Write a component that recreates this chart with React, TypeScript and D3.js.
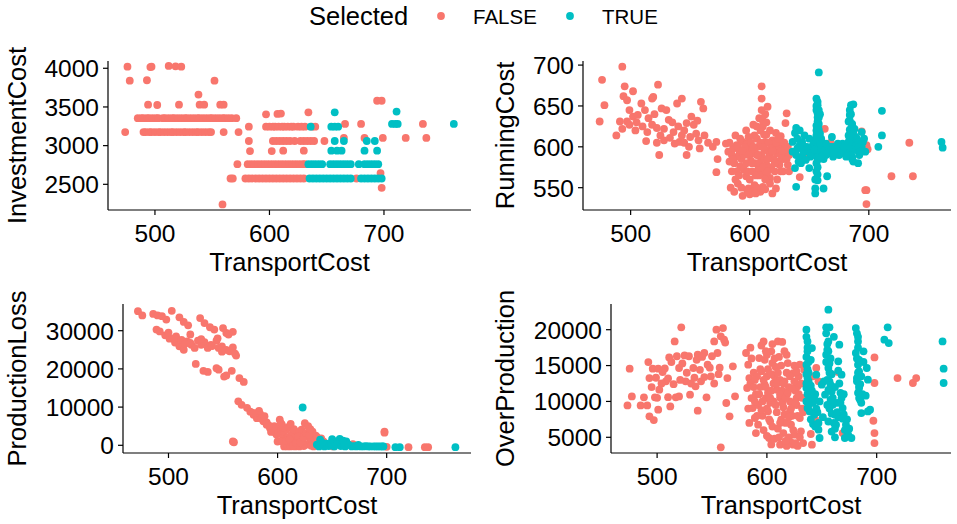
import React from 'react'
import * as d3 from 'd3'

// ---- data ----
const groups = ['FALSE', 'TRUE']
const groupColors = ['#F8766D', '#00BFC4']
const xTicks = [500, 600, 700]
const investTicks = [2500, 3000, 3500, 4000]
const runningTicks = [550, 600, 650, 700]
const lossTicks = [0, 10000, 20000, 30000]
const overTicks = [5000, 10000, 15000, 20000]

const investFalse = [
  [476, 4020], [496, 4015], [497, 4020], [512, 4030], [518, 4025], [523, 4020],
  [478, 3840], [493, 3845], [552, 3840], [538, 3660],
  [494, 3530], [502, 3525], [521, 3530], [539, 3530], [543, 3530], [557, 3530], [560, 3530],
  [485, 3355], [488, 3355], [490, 3355], [493, 3355], [495, 3355], [498, 3355], [501, 3355], [503, 3355],
  [507, 3355], [509, 3355], [512, 3355], [515, 3355], [517, 3355], [520, 3355], [523, 3355], [526, 3355],
  [528, 3355], [531, 3355], [534, 3355], [537, 3355], [539, 3355], [542, 3355], [545, 3355], [548, 3355],
  [550, 3355], [553, 3355], [556, 3355], [559, 3355], [561, 3355], [564, 3355], [567, 3355], [571, 3355],
  [474, 3175], [490, 3175], [492, 3175], [495, 3175], [497, 3175], [500, 3175], [503, 3175], [505, 3175],
  [508, 3175], [511, 3175], [514, 3175], [516, 3175], [519, 3175], [522, 3175], [525, 3175], [527, 3175],
  [530, 3175], [533, 3175], [536, 3175], [538, 3175], [541, 3175], [544, 3175], [547, 3175], [549, 3175],
  [560, 3175], [573, 3175],
  [597, 3405], [607, 3410], [610, 3415], [634, 3430],
  [582, 3245], [597, 3245], [600, 3245], [603, 3245], [605, 3245], [608, 3245], [611, 3245], [613, 3245],
  [616, 3245], [619, 3245], [621, 3245], [625, 3245], [628, 3245], [631, 3245], [637, 3245], [640, 3245],
  [666, 3280], [680, 3280], [734, 3280], [694, 3580], [698, 3580],
  [665, 3100], [683, 3100], [699, 3100], [719, 3100], [737, 3100],
  [582, 3060], [603, 3060], [606, 3060], [609, 3060], [612, 3060], [615, 3060], [618, 3060], [622, 3060],
  [627, 3060], [630, 3060], [633, 3060], [636, 3060], [639, 3060], [648, 3060],
  [583, 2930], [602, 2930], [612, 2935], [630, 2935],
  [572, 2760], [581, 2760], [584, 2760], [587, 2760], [590, 2760], [593, 2760], [596, 2760], [599, 2760],
  [602, 2760], [605, 2760], [608, 2760], [611, 2760], [614, 2760], [617, 2760], [620, 2760], [623, 2760],
  [626, 2760], [629, 2760], [631, 2760],
  [566, 2575], [568, 2575], [579, 2575], [582, 2575], [585, 2575], [588, 2575], [591, 2575], [594, 2575],
  [597, 2575], [600, 2575], [603, 2575], [606, 2575], [609, 2575], [612, 2575], [615, 2575], [618, 2575],
  [621, 2575], [624, 2575], [627, 2575], [630, 2575], [676, 2575],
  [697, 2645], [698, 2455], [559, 2240],
]
const investTrue = [
  [657, 3430], [711, 3440], [707, 3280], [710, 3280], [712, 3280], [761, 3280],
  [636, 3245], [654, 3245], [657, 3245], [660, 3245],
  [657, 3060], [665, 3060], [685, 3060], [692, 3060],
  [654, 2935], [659, 2935], [663, 2935], [683, 2935], [694, 2935],
  [634, 2760], [637, 2760], [640, 2760], [643, 2760], [646, 2760], [653, 2760], [656, 2760], [659, 2760],
  [662, 2760], [665, 2760], [668, 2760], [671, 2760], [678, 2760], [683, 2760], [686, 2760], [689, 2760],
  [692, 2760], [695, 2760],
  [635, 2575], [638, 2575], [641, 2575], [644, 2575], [647, 2575], [650, 2575], [653, 2575], [656, 2575],
  [659, 2575], [662, 2575], [665, 2575], [668, 2575], [671, 2575], [680, 2575], [683, 2575], [686, 2575],
  [689, 2575], [692, 2575], [695, 2575], [698, 2575],
]

const runningFalse = [
  [474, 631], [476, 682], [478, 651], [488, 614], [493, 698], [495, 674], [494, 662], [497, 657], [502, 668],
  [499, 645], [491, 631], [493, 622], [497, 631], [499, 627], [502, 637], [504, 620], [506, 639], [509, 653],
  [512, 645], [513, 607], [518, 659], [519, 661], [523, 676], [515, 635], [518, 627], [522, 623], [522, 605],
  [524, 590], [526, 647], [530, 645], [532, 633], [525, 614], [536, 618], [539, 653], [543, 659], [541, 606],
  [537, 604], [547, 590], [543, 614], [547, 629], [551, 637], [553, 627], [557, 608], [558, 598], [559, 655],
  [561, 647], [555, 616], [562, 614], [565, 605], [569, 600], [572, 606], [573, 585], [572, 569], [580, 604],
  [505, 630], [510, 625], [514, 618], [520, 640], [528, 622], [533, 611], [545, 620], [550, 612], [535, 630],
  [540, 625], [528, 608], [545, 605], [556, 632], [549, 600],
  [582, 594], [583, 582], [585, 570], [584, 550], [588, 614], [589, 602], [590, 588], [592, 576], [594, 606],
  [596, 592], [597, 564], [599, 549], [600, 598], [601, 583], [603, 545], [604, 614], [606, 590], [607, 572],
  [608, 635], [610, 674], [610, 659], [611, 625], [613, 606], [614, 578], [611, 551], [615, 649], [616, 594],
  [617, 562], [619, 543], [620, 602], [622, 617], [622, 549], [624, 582], [626, 570], [627, 606], [629, 592],
  [630, 629], [631, 641], [633, 590], [632, 578],
  [586, 598], [588, 560], [591, 596], [593, 585], [595, 572], [598, 604], [600, 560], [602, 592], [605, 580],
  [607, 600], [609, 588], [612, 598], [614, 615], [616, 586], [618, 575], [621, 596], [623, 560], [625, 600],
  [628, 585], [592, 610], [597, 620], [603, 627], [606, 610], [609, 545], [612, 567], [587, 545], [590, 555],
  [594, 540], [600, 542], [604, 553], [608, 565], [614, 596], [619, 608], [626, 613], [630, 597], [596, 600],
  [599, 612], [613, 640], [617, 620], [611, 632],
  [583, 605], [585, 590], [587, 580], [589, 570], [591, 565], [593, 550], [595, 590], [597, 580], [598, 570],
  [601, 605], [602, 570], [604, 595], [605, 565], [606, 550], [608, 580], [609, 605], [610, 590], [611, 575],
  [612, 585], [613, 560], [615, 570], [616, 605], [617, 590], [618, 598], [620, 585], [621, 570], [622, 605],
  [623, 592], [625, 578], [626, 590], [627, 595], [628, 570], [629, 605], [631, 585], [632, 600], [633, 570],
  [586, 585], [590, 600], [594, 595], [599, 590], [603, 600], [607, 590], [611, 600], [615, 585], [619, 595],
  [624, 610], [602, 580], [598, 545], [605, 543], [613, 548], [617, 555], [621, 580], [609, 620], [606, 625],
  [614, 630], [610, 645], [612, 615],
  [663, 622], [666, 596], [698, 602], [699, 597], [697, 547], [698, 547], [698, 530], [719, 564], [737, 564],
  [734, 605], [694, 619], [648, 587], [642, 563], [668, 605],
]
const runningTrue = [
  [638, 617], [639, 623], [636, 606], [639, 590], [638, 574], [641, 582], [639, 551], [642, 602], [646, 614],
  [648, 594], [650, 574], [653, 602], [655, 590], [656, 659], [657, 651], [657, 641], [657, 631], [658, 621],
  [657, 610], [658, 598], [657, 586], [658, 691], [657, 566], [657, 559], [655, 549], [655, 543], [662, 549],
  [665, 564], [661, 602], [664, 590], [669, 612], [672, 598], [675, 590], [681, 602], [683, 614], [683, 631],
  [684, 639], [685, 651], [687, 652], [684, 621], [684, 594], [687, 582], [691, 580], [692, 598], [694, 618],
  [695, 606], [697, 594], [708, 600], [711, 644], [711, 614], [761, 606], [762, 599],
  [656, 645], [658, 636], [656, 626], [659, 616], [656, 604], [659, 592], [656, 580], [654, 608], [660, 610],
  [662, 596], [666, 600], [668, 592], [670, 600], [676, 598], [678, 604], [686, 626], [685, 608], [688, 600],
  [686, 588], [689, 612], [682, 590], [640, 598], [644, 588], [646, 600], [650, 610], [652, 595], [644, 606],
  [636, 594], [642, 620], [680, 596], [692, 590], [690, 604],
  [657, 655], [656, 650], [658, 645], [657, 636], [656, 620], [658, 612], [657, 600], [656, 592], [658, 585],
  [657, 575], [656, 570], [655, 560], [657, 595], [659, 604], [656, 614], [658, 628], [659, 640],
  [684, 645], [685, 640], [684, 632], [686, 628], [685, 618], [684, 610], [686, 600], [684, 598], [685, 590],
  [686, 585], [683, 606], [687, 616], [688, 622], [690, 610], [692, 606], [694, 600], [696, 610], [689, 596],
  [691, 600], [693, 594],
  [645, 595], [648, 600], [651, 588], [654, 596], [662, 585], [665, 592], [668, 600], [671, 595], [674, 604],
  [677, 592], [679, 600], [681, 588], [660, 588], [664, 604], [640, 610], [643, 580], [647, 584], [670, 588],
]

const lossFalse = [
  [472, 35100], [476, 34000], [486, 34400], [490, 34000], [494, 33800], [498, 32900], [503, 35200],
  [510, 33500], [514, 32300], [518, 31400], [529, 33300], [533, 32000], [538, 30900], [542, 30300],
  [550, 30700], [553, 29400], [559, 29700], [489, 30300], [492, 29800], [497, 28800], [501, 27900],
  [506, 26900], [510, 25900], [514, 25000], [507, 28500], [512, 27600], [517, 27200], [520, 29000],
  [521, 26300], [524, 25500], [527, 27400], [530, 26300], [533, 27000], [536, 25500], [539, 26300],
  [544, 27400], [546, 25500], [549, 25900], [553, 25000], [556, 24600], [559, 25600], [562, 23500],
  [525, 21300], [532, 19500], [536, 19200], [544, 20200], [546, 19800], [551, 18000], [553, 18300],
  [558, 19500], [565, 17600], [569, 16600], [559, 1000], [560, 800], [564, 11500], [567, 10600],
  [572, 9800], [578, 8000], [581, 7100], [584, 8200], [587, 6300], [590, 5400], [593, 4500], [596, 3600],
  [599, 2800], [602, 6700], [604, 5400], [605, 1900], [607, 200], [608, 4100], [611, 5000], [613, 1000],
  [614, 3200], [616, -300], [617, 2800], [619, 200], [622, 4100], [623, 1500], [625, 5800], [628, 5000],
  [632, 3600], [627, 200], [633, -300], [642, 1000], [651, -300], [669, 300], [698, 3600], [700, -400],
  [720, -500], [735, -500], [738, -500],
  [500, 29500], [505, 28000], [515, 26500], [540, 26000], [545, 28000], [555, 29000], [561, 24000],
  [549, 24500], [530, 27800], [520, 26800], [575, 8800], [585, 7000], [590, 6000], [595, 4800], [600, 4000],
  [603, 3000], [606, 3500], [609, 2000], [610, 600], [612, 2400], [615, 4200], [618, 1200], [620, 3600],
  [606, -300], [609, -300], [612, -300], [615, 500], [620, -300], [624, -200], [630, 1800], [635, 2500],
  [612, 5600], [600, 1000], [698, 3300], [605, 4700], [594, 3500],
  [604, 1000], [608, 1200], [611, 1500], [614, -100], [617, 600], [619, 2300], [621, 800], [624, 2000],
  [626, 3200], [629, 2700], [631, -100], [634, 1200], [636, 2200], [638, -200], [603, 5800], [597, 5000],
  [592, 5200], [588, 7600], [583, 9000], [578, 8500], [630, 4200], [640, 1800],
]
const lossTrue = [
  [623, 9900], [636, 200], [639, 1500], [643, -300], [650, 1600], [654, 1000], [657, 1700], [663, 1000],
  [668, -300], [676, -300], [685, -300], [692, -300], [697, -300], [708, -500], [712, -500], [763, -500],
  [638, -300], [641, 700], [645, 400], [647, -200], [649, 500], [652, -300], [655, 300], [658, -200],
  [660, 400], [662, -300], [665, 200], [670, -200], [672, -300], [674, 100], [679, -300], [681, -200],
  [683, -300], [688, -300], [690, -300], [694, -300], [696, -300], [660, 1200],
]

const overFalse = [
  [473, 9450], [475, 14560], [477, 10700], [485, 9450], [488, 10570], [491, 9450], [492, 15490], [493, 7920],
  [493, 13260], [496, 14560], [498, 10570], [501, 14560], [501, 8850], [502, 11640], [505, 14100],
  [508, 12800], [511, 16140], [516, 18370], [517, 10570], [520, 14660], [522, 20330], [525, 16420],
  [526, 12800], [530, 10940], [533, 14660], [537, 8710], [537, 16520], [540, 12800], [543, 16750],
  [545, 10570], [546, 15120], [549, 13490], [552, 18370], [554, 20000], [555, 16750], [558, 19070],
  [560, 20230], [558, 3600], [563, 9780], [564, 13260], [566, 7920], [569, 14890], [571, 10710],
  [495, 12000], [499, 13300], [504, 12500], [507, 14600], [510, 13200], [513, 15500], [515, 12400],
  [518, 16300], [521, 13000], [523, 15300], [527, 14000], [529, 16300], [531, 12500], [534, 13300],
  [536, 15800], [539, 14400], [541, 16200], [543, 13400], [548, 14700], [550, 16300], [552, 12500],
  [556, 13800], [557, 14700], [497, 7400], [510, 10600], [500, 10500], [520, 10700], [535, 12100],
  [562, 18200], [561, 18600], [512, 9300],
  [581, 16750], [583, 15120], [584, 13260], [582, 11870], [586, 10470], [587, 9080], [589, 7690], [590, 5590],
  [592, 6760], [593, 16050], [595, 14190], [597, 18370], [598, 12330], [599, 10470], [601, 8620], [602, 4900],
  [604, 16980], [605, 15350], [607, 13490], [609, 11640], [610, 18370], [612, 10540], [613, 7450],
  [615, 5590], [612, 3970], [616, 12800], [618, 10940], [619, 15350], [621, 8620], [622, 6760], [624, 13960],
  [625, 5360], [627, 10470], [628, 12100], [630, 7690], [631, 5830], [633, 4200], [624, 3970], [640, 5460],
  [641, 3970], [630, 15120], [634, 14420], [645, 14660], [647, 12800], [665, 14100], [669, 5590],
  [698, 16140], [698, 12570], [697, 7310], [698, 5590], [698, 4200], [719, 13260], [733, 12570], [736, 13260],
  [585, 12500], [588, 14000], [590, 11000], [592, 9500], [594, 12000], [596, 8000], [598, 15800],
  [600, 13500], [601, 11200], [603, 9800], [605, 6500], [606, 12500], [608, 14800], [609, 8500],
  [611, 16200], [612, 13000], [614, 11500], [615, 9200], [617, 7000], [618, 14000], [620, 12000],
  [621, 10000], [623, 8000], [626, 11500], [627, 9500], [629, 13500], [632, 10500], [633, 8500],
  [620, 5000], [607, 4800], [605, 18000], [603, 7200], [616, 17000], [625, 15000], [638, 9500],
  [640, 11000], [642, 13500], [644, 7500], [585, 17500], [595, 17800], [600, 16500], [614, 18300],
  [610, 6200], [622, 4300], [628, 3800], [618, 3800],
  [583, 9000], [584, 7000], [586, 16000], [588, 12000], [589, 10000], [591, 13500], [591, 8000],
  [593, 11000], [594, 14500], [596, 10000], [597, 13000], [597, 6000], [599, 12000], [599, 17000],
  [600, 9000], [601, 14500], [602, 7500], [604, 11500], [604, 13800], [606, 10000], [607, 16000],
  [608, 9500], [609, 12500], [610, 14000], [611, 5000], [612, 11000], [613, 15000], [614, 9800],
  [615, 12500], [616, 8200], [617, 10500], [618, 16500], [619, 11200], [620, 7800], [621, 13500],
  [622, 9000], [623, 11800], [624, 6000], [625, 12800], [626, 9800], [627, 14200], [628, 8000],
  [629, 11000], [630, 5000], [631, 12500], [632, 9000], [600, 5200], [604, 4000], [617, 4500],
  [626, 4200], [589, 13000], [595, 8800], [603, 10500], [612, 7000],
]
const overTrue = [
  [636, 20000], [637, 18370], [637, 16980], [636, 15120], [637, 13260], [636, 11870], [639, 10470],
  [637, 9080], [643, 8150], [642, 6850], [647, 6060], [648, 4900], [641, 17440], [645, 13730], [650, 12330],
  [653, 10940], [656, 22790], [654, 20330], [657, 20330], [656, 18370], [654, 16520], [656, 14660],
  [657, 12800], [659, 11400], [660, 9540], [662, 8150], [663, 6760], [665, 15590], [666, 17910],
  [668, 13730], [668, 10470], [669, 9080], [672, 6760], [674, 5360], [671, 4900], [677, 4900], [681, 20230],
  [683, 18370], [681, 16750], [683, 15120], [682, 13260], [684, 11870], [684, 10470], [688, 16980],
  [691, 14660], [692, 13030], [694, 8850], [686, 8380], [710, 20330], [707, 18610], [711, 18140],
  [760, 18370], [761, 14560], [761, 12570],
  [638, 14000], [640, 12200], [642, 9800], [644, 11000], [646, 8500], [648, 10000], [651, 7800],
  [652, 12800], [655, 9500], [656, 7200], [658, 16000], [659, 13800], [660, 10500], [661, 19000],
  [662, 12000], [664, 9800], [665, 7800], [667, 11200], [670, 8200], [673, 7500], [675, 6200],
  [684, 14200], [683, 17500], [685, 12400], [686, 9800], [688, 15500], [690, 10800], [692, 8600],
  [636, 12500], [640, 15800], [655, 17200], [657, 15300], [665, 14300], [644, 6500], [659, 5800], [662, 5000],
  [636, 19000], [637, 17500], [636, 16200], [638, 15500], [637, 14500], [636, 13800], [638, 12800],
  [637, 11000], [636, 10000], [638, 9500], [639, 8600], [640, 7500], [641, 11500], [643, 10500],
  [645, 9000], [647, 7000], [654, 19500], [655, 18000], [656, 17000], [654, 15500], [657, 14000],
  [655, 13000], [658, 12300], [656, 11600], [658, 10200], [657, 9000], [659, 8300], [661, 7000],
  [662, 6200], [664, 8500], [666, 12500], [667, 9800], [669, 7600], [670, 11000], [671, 6000],
  [682, 19500], [683, 19000], [682, 16000], [684, 15800], [683, 14000], [682, 12800], [684, 12200],
  [683, 11200], [685, 10200], [686, 13500], [687, 11000],
]

// ---- layout ----
const W = 957
const H = 524
const FONT = '"Liberation Sans", Arial, Helvetica, sans-serif'
const R = 3.9

const panels = [
  { title: 'InvestmentCost', left: 108, right: 471, top: 61, bottom: 210, xDom: [459, 776], yDom: [2168, 4094], yTicks: investTicks, series: [investFalse, investTrue], yTitleX: 26 },
  { title: 'RunningCost', left: 583, right: 951, top: 61, bottom: 210, xDom: [460, 769], yDom: [522.7, 705], yTicks: runningTicks, series: [runningFalse, runningTrue], yTitleX: 514 },
  { title: 'ProductionLoss', left: 123, right: 471, top: 304, bottom: 453, xDom: [458.3, 777.3], yDom: [-2016, 36990], yTicks: lossTicks, series: [lossFalse, lossTrue], yTitleX: 26 },
  { title: 'OverProduction', left: 611, right: 951, top: 304, bottom: 453, xDom: [458, 767.7], yDom: [2811, 23583], yTicks: overTicks, series: [overFalse, overTrue], yTitleX: 514 },
]

function Panel({ p }) {
  const x = d3.scaleLinear().domain(p.xDom).range([p.left, p.right])
  const y = d3.scaleLinear().domain(p.yDom).range([p.bottom, p.top])
  const cx = (p.left + p.right) / 2
  const cy = (p.top + p.bottom) / 2
  return (
    <g>
      {p.series.map((pts, gi) => (
        <g key={gi} fill={groupColors[gi]}>
          {pts.map((d, i) => (
            <circle key={i} cx={x(d[0])} cy={y(d[1])} r={R} />
          ))}
        </g>
      ))}
      <line x1={p.left} x2={p.left} y1={p.top} y2={p.bottom} stroke="black" strokeWidth={1.2} />
      <line x1={p.left} x2={p.right} y1={p.bottom} y2={p.bottom} stroke="black" strokeWidth={1.2} />
      {p.yTicks.map((t) => (
        <g key={t}>
          <line x1={p.left - 5} x2={p.left} y1={y(t)} y2={y(t)} stroke="black" strokeWidth={1.2} />
          <text x={p.left - 9} y={y(t)} dy="0.36em" textAnchor="end" fontSize={24.5}>{t}</text>
        </g>
      ))}
      {xTicks.map((t) => (
        <g key={t}>
          <line x1={x(t)} x2={x(t)} y1={p.bottom} y2={p.bottom + 5} stroke="black" strokeWidth={1.2} />
          <text x={x(t)} y={p.bottom + 32} textAnchor="middle" fontSize={24.5}>{t}</text>
        </g>
      ))}
      <text x={cx} y={p.bottom + 61} textAnchor="middle" fontSize={25.5}>TransportCost</text>
      <text transform={`translate(${p.yTitleX},${cy}) rotate(-90)`} textAnchor="middle" fontSize={25.5}>{p.title}</text>
    </g>
  )
}

export default function App() {
  return (
    <svg width={W} height={H} style={{ position: 'absolute', left: 0, top: 0, background: 'white' }} fontFamily={FONT}>
      <rect width={W} height={H} fill="white" />
      <text x={309} y={25} fontSize={25.5}>Selected</text>
      {groups.map((g, i) => (
        <g key={g}>
          <circle cx={[441, 570][i]} cy={16} r={R} fill={groupColors[i]} />
          <text x={[473, 602][i]} y={24} fontSize={20.5}>{g}</text>
        </g>
      ))}
      {panels.map((p) => (
        <Panel key={p.title} p={p} />
      ))}
    </svg>
  )
}
